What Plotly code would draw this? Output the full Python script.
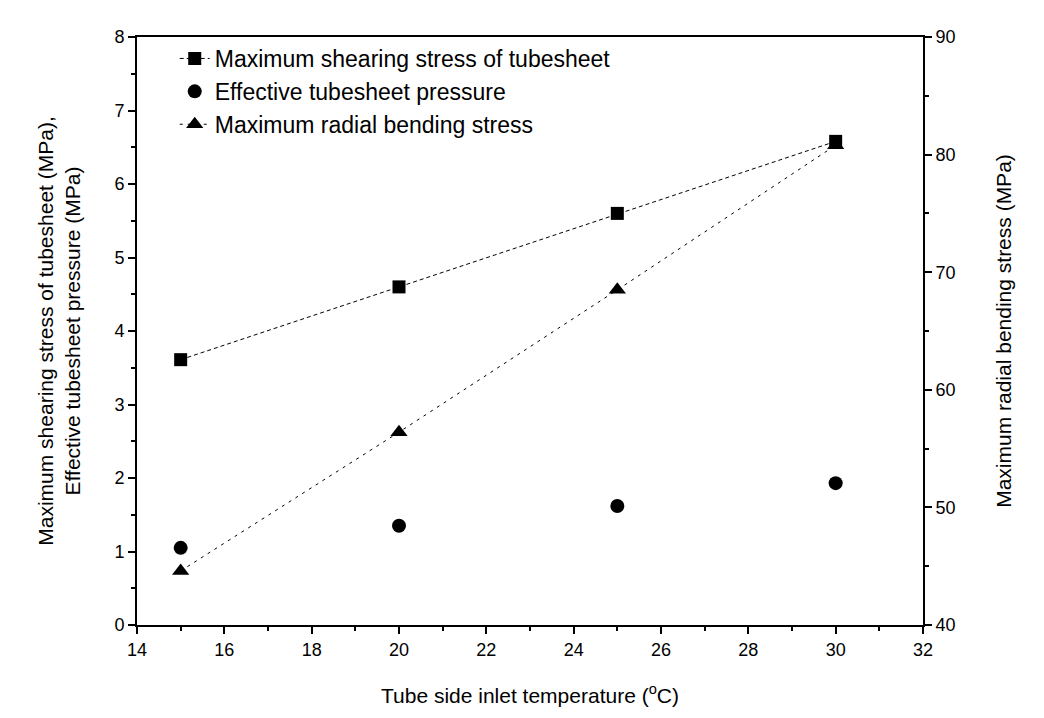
import plotly.graph_objects as go

temperature = [15, 20, 25, 30]
shear_stress = [3.61, 4.60, 5.60, 6.58]
effective_pressure = [1.05, 1.35, 1.62, 1.93]
radial_bending = [44.6, 56.4, 68.5, 80.8]

x_ticks = [14, 16, 18, 20, 22, 24, 26, 28, 30, 32]
left_ticks = [0, 1, 2, 3, 4, 5, 6, 7, 8]
right_ticks = [40, 50, 60, 70, 80, 90]

FONT = "Arial, Liberation Sans, sans-serif"

fig = go.Figure()
fig.add_trace(go.Scatter(
    x=temperature, y=shear_stress, mode="lines+markers",
    name="Maximum shearing stress of tubesheet",
    line=dict(color="black", width=1, dash="4px,3px"),
    marker=dict(symbol="square", size=13, color="black"),
    legendgroup="a"))
fig.add_trace(go.Scatter(
    x=temperature, y=effective_pressure, mode="markers",
    name="Effective tubesheet pressure",
    marker=dict(symbol="circle", size=14, color="black"),
    legendgroup="b"))
fig.add_trace(go.Scatter(
    x=temperature, y=radial_bending, mode="lines+markers",
    name="Maximum radial bending stress", yaxis="y2",
    line=dict(color="black", width=1, dash="3px,5px"),
    marker=dict(symbol="triangle-up", size=15, color="black"),
    legendgroup="c"))

axis_common = dict(
    showline=True, linecolor="black", linewidth=2,
    ticks="outside", tickcolor="black", ticklen=7, tickwidth=2,
    showgrid=False, zeroline=False,
    tickfont=dict(family=FONT, size=18, color="black"),
    title_font=dict(family=FONT, size=21, color="black"),
)

fig.update_layout(
    width=1044, height=718,
    margin=dict(l=137, r=121, t=37, b=93),
    paper_bgcolor="white", plot_bgcolor="white",
    font=dict(family=FONT, color="black"),
    xaxis=dict(range=[14, 32], tickvals=x_ticks, mirror=True,
               minor=dict(ticks="outside", dtick=1, ticklen=4, tickcolor="black", tickwidth=1.5),
               title=dict(text="Tube side inlet temperature (<sup>o</sup>C)", standoff=30),
               **axis_common),
    yaxis=dict(range=[0, 8], tickvals=left_ticks,
               minor=dict(ticks="outside", dtick=0.5, ticklen=4, tickcolor="black", tickwidth=1.5),
               title=dict(text="Maximum shearing stress of tubesheet (MPa),<br>Effective tubesheet pressure (MPa)", standoff=28),
               **axis_common),
    yaxis2=dict(range=[40, 90], tickvals=right_ticks, overlaying="y", side="right",
                minor=dict(ticks="outside", dtick=5, ticklen=4, tickcolor="black", tickwidth=1.5),
                title=dict(text="Maximum radial bending stress (MPa)", standoff=42),
                **axis_common),
    legend=dict(x=0.048, y=1.0, xanchor="left", yanchor="top",
                bgcolor="rgba(0,0,0,0)", traceorder="grouped", tracegroupgap=0,
                font=dict(family=FONT, size=23, color="black"), itemwidth=30),
    showlegend=True,
)

fig.write_html("out.html")
